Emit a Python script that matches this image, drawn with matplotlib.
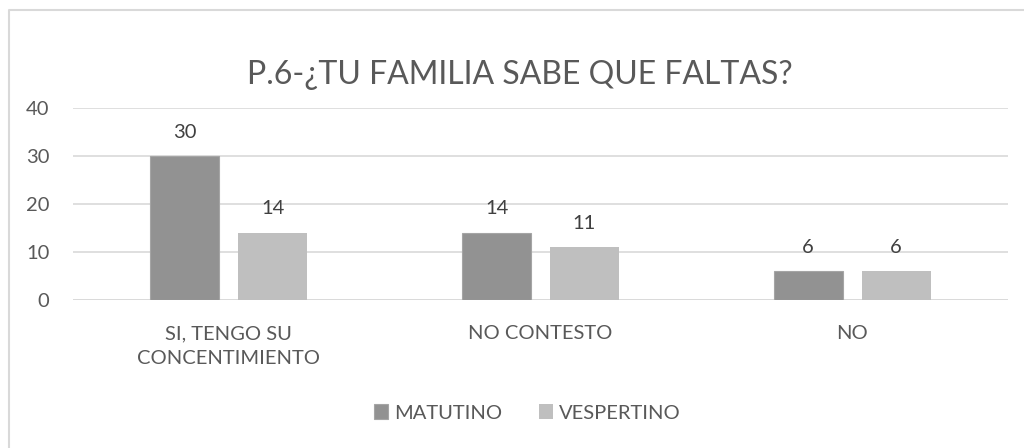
import matplotlib.pyplot as plt
import numpy as np
from matplotlib.lines import Line2D

categorias = ["SI, TENGO SU\nCONCENTIMIENTO", "NO CONTESTO", "NO"]
matutino = [30, 14, 6]
vespertino = [14, 11, 6]

plt.rcParams['font.family'] = ['Lato', 'DejaVu Sans']

fig = plt.figure(figsize=(10.24, 4.48), dpi=100)
ax = fig.add_axes([0.0713, 0.3304, 0.9131, 0.4286])

# marco del grafico (solo izquierda y arriba quedan dentro de la imagen)
fig.lines.append(Line2D([9 / 1024, 9 / 1024, 1.0], [0.0, 1 - 10 / 448, 1 - 10 / 448],
                        transform=fig.transFigure, color='#d9d9d9', linewidth=1.5))

x = np.arange(len(categorias))
w = 0.221
b1 = ax.bar(x - 0.141, matutino, w, color='#929292', edgecolor='#a5a5a5', linewidth=0.8,
            label='MATUTINO', zorder=3)
b2 = ax.bar(x + 0.141, vespertino, w, color='#bfbfbf', label='VESPERTINO', zorder=3)
ax.bar_label(b1, padding=11, fontsize=14.5, color='#404040')
ax.bar_label(b2, padding=11, fontsize=14.5, color='#404040')

ax.set_xlim(-0.5, 2.5)
ax.set_ylim(0, 40)
ax.set_yticks([0, 10, 20, 30, 40])
ax.grid(axis='y', color='#d9d9d9', linewidth=1.2, zorder=0)
for s in ax.spines.values():
    s.set_visible(False)
ax.axhline(0, color='#d9d9d9', linewidth=1.2, zorder=2)
ax.tick_params(axis='both', length=0, labelsize=14.5, labelcolor='#595959')
ax.tick_params(axis='y', pad=17)
ax.tick_params(axis='x', pad=18)
ax.set_xticks(x)
ax.set_xticklabels(categorias, linespacing=1.6)

fig.text(0.508, 1 - 75 / 448, "P.6-¿TU FAMILIA SABE QUE FALTAS?", ha='center', va='center',
         fontsize=23, color='#595959')

fig.legend(handles=[b1, b2], loc='center', bbox_to_anchor=(0.515, 1 - 413 / 448), ncol=2,
           frameon=False, fontsize=14.5, labelcolor='#595959', handlelength=0.7,
           handleheight=0.7, handletextpad=0.3, columnspacing=1.8)

fig.savefig('out.png', dpi=100)
